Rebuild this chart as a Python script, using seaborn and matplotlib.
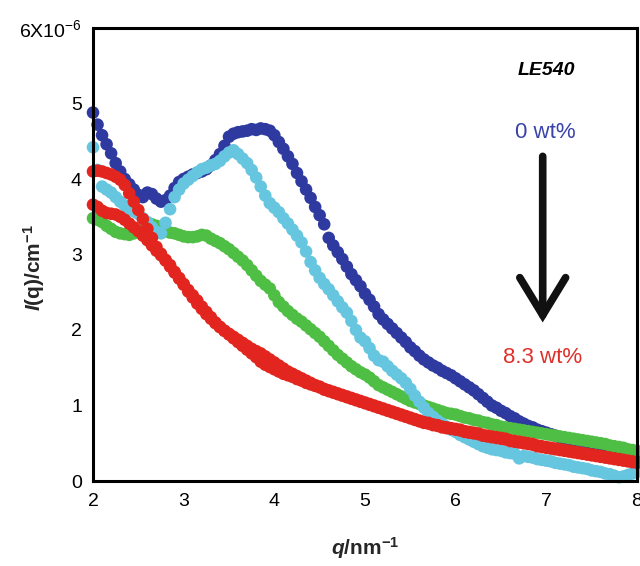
import numpy as np
import pandas as pd
import matplotlib
matplotlib.use("Agg")
import matplotlib.pyplot as plt
import seaborn as sns

# ---------------- data (I in units of 1e-6 cm^-1) ----------------
q = [2.00, 2.05, 2.10, 2.15, 2.20, 2.25, 2.30, 2.35, 2.40, 2.45,
     2.50, 2.55, 2.60, 2.65, 2.70, 2.75, 2.80, 2.85, 2.90, 2.95,
     3.00, 3.05, 3.10, 3.15, 3.20, 3.25, 3.30, 3.35, 3.40, 3.45,
     3.50, 3.55, 3.60, 3.65, 3.70, 3.75, 3.80, 3.85, 3.90, 3.95,
     4.00, 4.05, 4.10, 4.15, 4.20, 4.25, 4.30, 4.35, 4.40, 4.45,
     4.50, 4.55, 4.60, 4.65, 4.70, 4.75, 4.80, 4.85, 4.90, 4.95,
     5.00, 5.05, 5.10, 5.15, 5.20, 5.25, 5.30, 5.35, 5.40, 5.45,
     5.50, 5.55, 5.60, 5.65, 5.70, 5.75, 5.80, 5.85, 5.90, 5.95,
     6.00, 6.05, 6.10, 6.15, 6.20, 6.25, 6.30, 6.35, 6.40, 6.45,
     6.50, 6.55, 6.60, 6.65, 6.70, 6.75, 6.80, 6.85, 6.90, 6.95,
     7.00, 7.05, 7.10, 7.15, 7.20, 7.25, 7.30, 7.35, 7.40, 7.45,
     7.50, 7.55, 7.60, 7.65, 7.70, 7.75, 7.80, 7.85, 7.90, 7.95,
     8.00]

I_0wt = [4.88, 4.72, 4.58, 4.46, 4.34, 4.21, 4.10, 4.00, 3.93, 3.86,
         3.79, 3.76, 3.82, 3.80, 3.74, 3.70, 3.72, 3.78, 3.88, 3.96,
         4.00, 4.03, 4.06, 4.08, 4.10, 4.13, 4.18, 4.25, 4.33, 4.44,
         4.56, 4.60, 4.62, 4.63, 4.64, 4.66, 4.65, 4.67, 4.66, 4.64,
         4.58, 4.49, 4.40, 4.30, 4.20, 4.08, 3.97, 3.86, 3.75, 3.63,
         3.52, 3.40, 3.22, 3.12, 3.03, 2.94, 2.84, 2.74, 2.66, 2.58,
         2.48, 2.40, 2.31, 2.21, 2.14, 2.08, 2.02, 1.96, 1.90, 1.84,
         1.77, 1.72, 1.66, 1.61, 1.57, 1.53, 1.50, 1.46, 1.43, 1.40,
         1.36, 1.32, 1.28, 1.24, 1.20, 1.15, 1.10, 1.05, 1.00, 0.97,
         0.93, 0.90, 0.86, 0.83, 0.79, 0.76, 0.73, 0.71, 0.68, 0.66,
         0.64, 0.62, 0.60, 0.58, 0.56, 0.54, 0.52, 0.50, 0.48, 0.46,
         0.45, 0.43, 0.41, 0.40, 0.38, 0.36, 0.35, 0.33, 0.32, 0.31,
         0.30]

I_cyan = [4.42, 4.12, 3.90, 3.86, 3.82, 3.76, 3.70, 3.65, 3.60, 3.57,
          3.54, 3.48, 3.43, 3.36, 3.30, 3.28, 3.42, 3.60, 3.76, 3.86,
          3.94, 3.99, 4.04, 4.09, 4.13, 4.15, 4.18, 4.20, 4.24, 4.30,
          4.35, 4.38, 4.33, 4.27, 4.21, 4.12, 4.02, 3.90, 3.78, 3.68,
          3.62, 3.56, 3.48, 3.41, 3.33, 3.25, 3.16, 3.04, 2.90, 2.79,
          2.69, 2.61, 2.54, 2.46, 2.38, 2.30, 2.23, 2.12, 2.00, 1.90,
          1.85, 1.76, 1.66, 1.60, 1.58, 1.52, 1.46, 1.41, 1.36, 1.30,
          1.22, 1.13, 1.05, 0.97, 0.90, 0.85, 0.80, 0.76, 0.72, 0.68,
          0.65, 0.61, 0.58, 0.55, 0.52, 0.49, 0.46, 0.44, 0.42, 0.41,
          0.40, 0.38, 0.37, 0.36, 0.30, 0.33, 0.32, 0.31, 0.29, 0.28,
          0.27, 0.26, 0.24, 0.23, 0.22, 0.21, 0.19, 0.18, 0.17, 0.16,
          0.14, 0.13, 0.12, 0.10, 0.09, 0.07, 0.05, 0.06, 0.08, 0.10,
          0.12]

I_green = [3.48, 3.46, 3.43, 3.38, 3.34, 3.30, 3.28, 3.27, 3.26, 3.28,
           3.30, 3.33, 3.37, 3.40, 3.38, 3.34, 3.31, 3.29, 3.28, 3.26,
           3.24, 3.23, 3.23, 3.24, 3.26, 3.25, 3.21, 3.18, 3.15, 3.11,
           3.07, 3.02, 2.97, 2.92, 2.86, 2.79, 2.72, 2.65, 2.60, 2.55,
           2.46, 2.37, 2.31, 2.25, 2.20, 2.15, 2.11, 2.06, 2.01, 1.96,
           1.91, 1.85, 1.79, 1.73, 1.67, 1.62, 1.57, 1.52, 1.48, 1.44,
           1.41, 1.37, 1.32, 1.27, 1.24, 1.21, 1.18, 1.15, 1.12, 1.09,
           1.06, 1.04, 1.02, 1.00, 0.98, 0.96, 0.94, 0.92, 0.90, 0.89,
           0.88, 0.86, 0.84, 0.83, 0.81, 0.80, 0.78, 0.77, 0.75, 0.74,
           0.72, 0.71, 0.70, 0.69, 0.68, 0.67, 0.66, 0.65, 0.64, 0.63,
           0.62, 0.61, 0.60, 0.59, 0.58, 0.57, 0.56, 0.55, 0.54, 0.53,
           0.52, 0.51, 0.50, 0.49, 0.47, 0.46, 0.45, 0.44, 0.42, 0.41,
           0.40]

I_red_a = [4.10, 4.11, 4.10, 4.08, 4.06, 4.03, 3.99, 3.92, 3.81, 3.70,
           3.59, 3.47, 3.34, 3.22, 3.10, 3.01, 2.93, 2.86, 2.77, 2.69,
           2.61, 2.53, 2.46, 2.39, 2.31, 2.24, 2.17, 2.10, 2.04, 1.99,
           1.94, 1.89, 1.84, 1.79, 1.74, 1.69, 1.64, 1.58, 1.54, 1.51,
           1.48, 1.45, 1.42, 1.40, 1.38, 1.35, 1.33, 1.30, 1.28, 1.26,
           1.24, 1.21, 1.19, 1.17, 1.15, 1.13, 1.11, 1.09, 1.07, 1.05,
           1.03, 1.01, 0.99, 0.97, 0.95, 0.93, 0.91, 0.89, 0.87, 0.85,
           0.83, 0.81, 0.79, 0.77, 0.76, 0.74, 0.73, 0.71, 0.70, 0.69,
           0.68, 0.67, 0.65, 0.64, 0.63, 0.62, 0.60, 0.59, 0.58, 0.57,
           0.56, 0.55, 0.53, 0.52, 0.51, 0.50, 0.49, 0.48, 0.46, 0.45,
           0.44, 0.43, 0.42, 0.41, 0.40, 0.39, 0.38, 0.37, 0.36, 0.35,
           0.34, 0.33, 0.32, 0.31, 0.30, 0.29, 0.28, 0.27, 0.26, 0.25,
           0.24]

I_red_b = [3.66, 3.63, 3.58, 3.55, 3.54, 3.53, 3.50, 3.46, 3.41, 3.36,
           3.31, 3.25, 3.19, 3.12, 3.05, 2.99, 2.92, 2.84, 2.76, 2.68,
           2.60, 2.51, 2.43, 2.35, 2.28, 2.21, 2.15, 2.09, 2.04, 1.99,
           1.95, 1.91, 1.87, 1.83, 1.79, 1.75, 1.72, 1.69, 1.65, 1.61,
           1.57, 1.53, 1.49, 1.45, 1.42, 1.39, 1.36, 1.33, 1.30, 1.27,
           1.25, 1.22, 1.20, 1.18, 1.16, 1.14, 1.12, 1.10, 1.08, 1.06,
           1.04, 1.02, 1.00, 0.98, 0.96, 0.94, 0.92, 0.90, 0.88, 0.86,
           0.84, 0.82, 0.80, 0.78, 0.77, 0.75, 0.74, 0.72, 0.71, 0.70,
           0.69, 0.68, 0.66, 0.65, 0.64, 0.63, 0.61, 0.60, 0.59, 0.58,
           0.57, 0.56, 0.54, 0.53, 0.52, 0.51, 0.50, 0.49, 0.47, 0.46,
           0.45, 0.44, 0.43, 0.42, 0.41, 0.40, 0.39, 0.38, 0.37, 0.36,
           0.35, 0.34, 0.33, 0.32, 0.31, 0.30, 0.29, 0.28, 0.27, 0.26,
           0.25]

series_names = ["0 wt%", "green", "cyan", "red_a", "red_b"]
series_values = [I_0wt, I_green, I_cyan, I_red_a, I_red_b]
palette = {"0 wt%": "#2F3AA0", "cyan": "#66C6E0", "green": "#4FBE44",
           "red_a": "#E2261F", "red_b": "#E2261F"}

x_ticks = [2, 3, 4, 5, 6, 7, 8]
y_ticks = [0, 1, 2, 3, 4, 5, 6]
y_tick_labels = ["0", "1", "2", "3", "4", "5", r"6X10$^{\mathregular{-6}}$"]

# ---------------- build table ----------------
frames = []
for name, vals in zip(series_names, series_values):
    frames.append(pd.DataFrame({"q": q, "I": vals, "series": name}))
df = pd.concat(frames, ignore_index=True)

# ---------------- style ----------------
sns.set_style("white")
plt.rcParams["font.family"] = ["Liberation Sans", "DejaVu Sans"]
plt.rcParams["mathtext.fontset"] = "custom"
plt.rcParams["mathtext.rm"] = "Liberation Sans"
plt.rcParams["mathtext.it"] = "Liberation Sans:italic"
plt.rcParams["mathtext.bf"] = "Liberation Sans:bold"
plt.rcParams["mathtext.bfit"] = "Liberation Sans:bold:italic"

fig = plt.figure(figsize=(6.4, 5.66), dpi=100)
ax = fig.add_axes([93 / 640, 1 - 481 / 566, 544 / 640, 453 / 566])

sns.scatterplot(data=df, x="q", y="I", hue="series",
                palette=palette, s=82, linewidth=0, alpha=1.0,
                legend=False, ax=ax, clip_on=False)

ax.set_xlim(2, 8)
ax.set_ylim(0, 6)
ax.set_xticks(x_ticks)
ax.set_xticklabels([str(t) for t in x_ticks])
ax.set_yticks(y_ticks)
ax.set_yticklabels(y_tick_labels)
ax.tick_params(axis="both", direction="in", length=10, width=2.2,
               colors="black", labelsize=14)
ax.tick_params(axis="x", pad=9)
ax.tick_params(axis="y", pad=8)
for sp in ax.spines.values():
    sp.set_visible(True)
    sp.set_linewidth(2.2)
    sp.set_color("black")
    sp.set_zorder(3)

ax.set_xlabel(r"$\mathbfit{q}\mathbf{/nm^{-1}}$", fontsize=15)
ax.set_ylabel(r"$\mathbfit{I}\mathbf{(q)/cm^{-1}}$", fontsize=15)
ax.xaxis.set_label_coords(0.5, -0.12)
ax.yaxis.set_label_coords(-0.085, 0.47)

# annotations
ax.text(7.0, 5.44, "LE540", fontsize=14, fontweight="bold", fontstyle="italic",
        ha="center", va="center", color="black")
ax.text(6.99, 4.62, "0 wt%", fontsize=16, ha="center", va="center",
        color="#3A44A8")
ax.text(6.96, 1.64, "8.3 wt%", fontsize=16, ha="center", va="center",
        color="#E0302A")
ax.annotate("", xy=(6.96, 2.10), xytext=(6.96, 4.30),
            arrowprops=dict(arrowstyle="->,head_length=0.9,head_width=0.55",
                            lw=5.5, color="#111111", mutation_scale=30,
                            shrinkA=0, shrinkB=0, joinstyle="miter"))

fig.savefig("out.png", dpi=100)
